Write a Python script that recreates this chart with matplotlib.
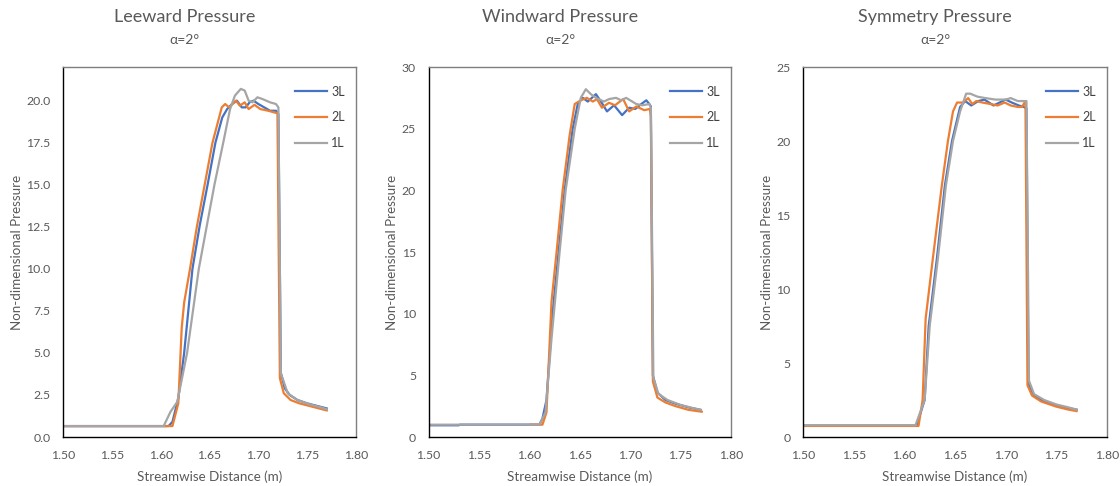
import matplotlib.pyplot as plt

# pressure distributions along the streamwise direction, alpha = 2 deg
# 3L / 2L / 1L = refinement levels

# --- Leeward ---
lee_x_3L = [1.50, 1.608, 1.612, 1.618, 1.624, 1.6325, 1.640, 1.648, 1.656, 1.663, 1.668, 1.673, 1.678,
            1.683, 1.687, 1.691, 1.695, 1.700, 1.706, 1.712, 1.718, 1.7205, 1.723, 1.727, 1.732,
            1.740, 1.750, 1.760, 1.770]
lee_y_3L = [0.65, 0.65, 0.9, 2.3, 5.0, 10.0, 12.6, 15.0, 17.5, 19.0, 19.5, 19.8, 20.0,
            19.6, 19.6, 19.9, 20.0, 19.8, 19.6, 19.4, 19.4, 19.2, 3.8, 2.9, 2.5,
            2.2, 2.0, 1.85, 1.7]

lee_x_2L = [1.50, 1.612, 1.618, 1.6215, 1.624, 1.630, 1.637, 1.645, 1.653, 1.6625, 1.666, 1.670, 1.677,
            1.681, 1.686, 1.690, 1.696, 1.702, 1.710, 1.7195, 1.722, 1.726, 1.733, 1.742, 1.752,
            1.762, 1.770]
lee_y_2L = [0.65, 0.65, 2.0, 6.5, 8.0, 10.0, 12.5, 15.0, 17.5, 19.6, 19.8, 19.6, 20.0,
            19.7, 19.9, 19.5, 19.75, 19.5, 19.4, 19.25, 3.5, 2.6, 2.2, 2.0, 1.85,
            1.7, 1.58]

lee_x_1L = [1.50, 1.603, 1.610, 1.617, 1.627, 1.639, 1.655, 1.664, 1.671, 1.676, 1.682, 1.686, 1.690,
            1.694, 1.699, 1.704, 1.712, 1.718, 1.7205, 1.723, 1.730, 1.740, 1.752, 1.762, 1.770]
lee_y_1L = [0.65, 0.65, 1.5, 2.1, 5.0, 10.0, 15.0, 17.5, 19.5, 20.3, 20.7, 20.6, 20.0,
            19.9, 20.2, 20.1, 19.9, 19.8, 19.6, 3.8, 2.6, 2.2, 1.95, 1.8, 1.65]

# --- Windward ---
win_x_3L = [1.50, 1.53, 1.531, 1.610, 1.613, 1.617, 1.623, 1.629, 1.635, 1.643, 1.648, 1.653, 1.658,
            1.662, 1.666, 1.671, 1.677, 1.684, 1.692, 1.699, 1.705, 1.711, 1.716, 1.719, 1.7205,
            1.7225, 1.727, 1.735, 1.745, 1.758, 1.770]
win_y_3L = [0.95, 0.95, 1.0, 1.0, 1.5, 3.0, 10.0, 15.0, 20.0, 25.0, 27.0, 27.5, 27.2,
            27.5, 27.8, 27.2, 26.4, 26.9, 26.1, 26.7, 26.6, 27.0, 27.3, 27.0, 26.8,
            5.0, 3.6, 3.0, 2.7, 2.4, 2.2]

win_x_2L = [1.601, 1.613, 1.617, 1.622, 1.627, 1.633, 1.640, 1.645, 1.651, 1.657, 1.663, 1.667, 1.672,
            1.679, 1.685, 1.693, 1.699, 1.706, 1.714, 1.7195, 1.7205, 1.7225, 1.727, 1.735, 1.745,
            1.758, 1.771]
win_y_2L = [1.0, 1.0, 2.0, 11.0, 15.0, 20.0, 24.5, 27.0, 27.3, 27.5, 27.2, 27.4, 26.7,
            27.1, 26.9, 27.4, 26.4, 26.8, 26.5, 26.6, 26.0, 4.5, 3.2, 2.8, 2.5,
            2.2, 2.05]

win_x_1L = [1.50, 1.610, 1.616, 1.622, 1.630, 1.636, 1.645, 1.651, 1.656, 1.661, 1.666, 1.674, 1.679,
            1.686, 1.691, 1.696, 1.706, 1.712, 1.719, 1.7205, 1.723, 1.728, 1.737, 1.750, 1.762, 1.770]
win_y_1L = [1.0, 1.0, 2.0, 8.0, 15.0, 20.0, 25.0, 27.5, 28.2, 27.8, 27.5, 27.2, 27.4,
            27.5, 27.3, 27.5, 27.0, 26.9, 27.0, 26.7, 4.8, 3.5, 3.0, 2.6, 2.35, 2.2]

# --- Symmetry ---
sym_x_3L = [1.50, 1.612, 1.620, 1.624, 1.632, 1.640, 1.647, 1.655, 1.660, 1.666, 1.673, 1.679, 1.688,
            1.694, 1.700, 1.706, 1.713, 1.718, 1.7205, 1.7225, 1.728, 1.738, 1.750, 1.762, 1.770]
sym_y_3L = [0.75, 0.75, 2.5, 7.5, 12.0, 17.0, 20.0, 22.3, 22.7, 22.4, 22.7, 22.8, 22.4,
            22.6, 22.8, 22.6, 22.4, 22.3, 22.2, 3.6, 2.8, 2.4, 2.15, 1.95, 1.85]

sym_x_2L = [1.50, 1.614, 1.618, 1.621, 1.628, 1.637, 1.643, 1.648, 1.652, 1.658, 1.663, 1.667, 1.671,
            1.677, 1.685, 1.692, 1.699, 1.705, 1.712, 1.716, 1.7195, 1.7215, 1.726, 1.735, 1.750,
            1.762, 1.770]
sym_y_2L = [0.75, 0.75, 2.5, 8.0, 12.0, 17.0, 20.0, 22.0, 22.6, 22.6, 22.9, 22.5, 22.7,
            22.6, 22.5, 22.4, 22.6, 22.4, 22.3, 22.3, 22.7, 3.5, 2.8, 2.4, 2.05,
            1.85, 1.75]

sym_x_1L = [1.50, 1.611, 1.620, 1.625, 1.633, 1.641, 1.648, 1.655, 1.661, 1.665, 1.672, 1.680, 1.690,
            1.700, 1.705, 1.712, 1.7205, 1.723, 1.728, 1.738, 1.750, 1.762, 1.770]
sym_y_1L = [0.8, 0.8, 2.5, 7.5, 12.0, 17.0, 20.0, 22.0, 23.2, 23.2, 23.0, 22.9, 22.8,
            22.8, 22.9, 22.7, 22.7, 3.8, 2.9, 2.5, 2.2, 2.0, 1.85]

titles = ['Leeward Pressure', 'Windward Pressure', 'Symmetry Pressure']
labels = ['3L', '2L', '1L']
colors = ['#4472C4', '#ED7D31', '#A5A5A5']

panels = [
    [(lee_x_3L, lee_y_3L), (lee_x_2L, lee_y_2L), (lee_x_1L, lee_y_1L)],
    [(win_x_3L, win_y_3L), (win_x_2L, win_y_2L), (win_x_1L, win_y_1L)],
    [(sym_x_3L, sym_y_3L), (sym_x_2L, sym_y_2L), (sym_x_1L, sym_y_1L)],
]
ylims = [(0, 22), (0, 30), (0, 25)]
yticks = [[0, 2.5, 5, 7.5, 10, 12.5, 15, 17.5, 20], [0, 5, 10, 15, 20, 25, 30], [0, 5, 10, 15, 20, 25]]
yfmt = ['%.1f', '%d', '%d']
xticks = [1.50, 1.55, 1.60, 1.65, 1.70, 1.75, 1.80]

# axes boxes [left, bottom, width, height] in figure fraction
boxes = [[0.0563, 0.1008, 0.2616, 0.7613],
         [0.3826, 0.1008, 0.2701, 0.7613],
         [0.7170, 0.1008, 0.2714, 0.7613]]
title_x = [0.165, 0.500, 0.835]
ylab_x = [0.015, 0.350, 0.685]

txt = '#595959'
plt.rcParams['font.family'] = ['Lato', 'DejaVu Sans']

fig = plt.figure(figsize=(11.2, 4.86), dpi=100)
fig.patch.set_facecolor('white')

for k in range(3):
    ax = fig.add_axes(boxes[k])
    for (xs, ys), lab, c in zip(panels[k], labels, colors):
        ax.plot(xs, ys, color=c, lw=1.6, label=lab)
    ax.set_xlim(1.50, 1.80)
    ax.set_ylim(*ylims[k])
    ax.set_xticks(xticks)
    ax.set_xticklabels(['%.2f' % v for v in xticks])
    ax.set_yticks(yticks[k])
    ax.set_yticklabels([yfmt[k] % v for v in yticks[k]])
    ax.tick_params(length=0, labelsize=8.8, labelcolor=txt, pad=9)
    for s in ['left', 'bottom']:
        ax.spines[s].set_color('black')
    for s in ['top', 'right']:
        ax.spines[s].set_color('#7f7f7f')
    for s in ax.spines.values():
        s.set_linewidth(1.0)
    ax.set_xlabel('Streamwise Distance (m)', fontsize=9.6, color=txt, labelpad=7)
    fig.text(ylab_x[k], boxes[k][1] + boxes[k][3] / 2, 'Non-dimensional Pressure',
             rotation=90, ha='center', va='center', fontsize=9.6, color=txt)
    fig.text(title_x[k], 0.965, titles[k], ha='center', va='center', fontsize=13, color=txt)
    fig.text(title_x[k], 0.918, 'α=2°', ha='center', va='center', fontsize=10, color=txt)
    ax.legend(loc='upper right', frameon=False, fontsize=9, labelcolor='#404040',
              handlelength=2.6, handletextpad=0.3, labelspacing=1.1,
              bbox_to_anchor=(1.0, 0.98))

plt.savefig('out.png', dpi=100, facecolor='white')
